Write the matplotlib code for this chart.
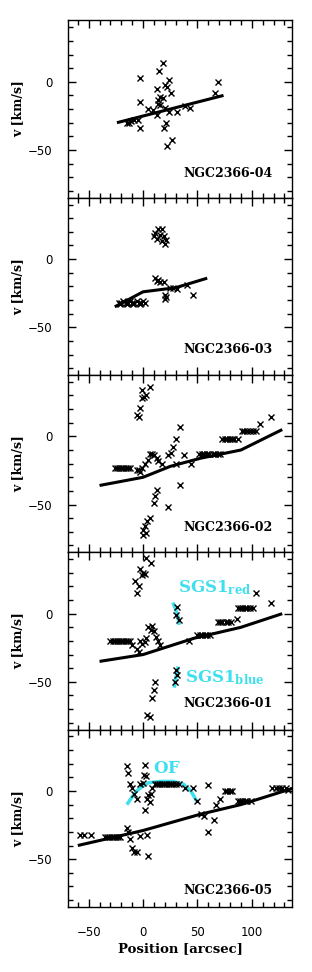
import matplotlib
matplotlib.use("Agg")
import matplotlib.pyplot as plt
from matplotlib.ticker import MultipleLocator

# ---- NGC2366-04 ----
n04_x = [18, 15, -3, 69, 24, 20, 22, 13, 26, 66, 16, 14, 18, -3, 14, 16, 5, 20, 13, 24,
         31, 39, 43, 21, 19, -3, -5, -11, -15, -8, 27, 22, -13, 9]
n04_v = [14, 8, 3, 0, 1, -2, -4, -5, -8, -8, -11, -13, -12, -15, -16, -17, -20, -19, -24, -22,
         -22, -18, -19, -30, -34, -34, -28, -29, -30, -28, -43, -47, -30, -21]
n04_mx = [-24, 74]
n04_mv = [-30, -10]

# ---- NGC2366-03 ----
n03_x = [14, 17, 11, 16, 19, 13, 21, 17, 20, 10,
         11, 14, 16, 13, 19, 20, 21, 20, 25, 28, 31, 40, 46,
         -22, -20, -18, -16, -14, -12, -10, -8, -6, -4, -2, 0, 2, -21, -15, -9, -3]
n03_v = [22, 22, 19, 18, 17, 15, 14, 13, 11, 17,
         -14, -15, -17, -16, -17, -26, -28, -29, -21, -21, -22, -19, -26,
         -32, -32, -31, -32, -32, -31, -32, -32, -31, -32, -32, -31, -32, -33, -33, -33, -33]
n03_mx = [-26, 0, 30, 59]
n03_mv = [-35, -24, -21, -14]

# ---- NGC2366-02 ----
n02_x = [-1, 6, 1, 3, -1, -3, -6, -4,
         -26, -24, -22, -20, -18, -16, -14, -12,
         -6, -3, -1, 2, 5, 6, 10, 13, 14, 17, -4, 8,
         23, 26, 28, 30, 34, 30, 38, 44, 34, 23,
         51, 54, 56, 59, 61, 64, 66, 69, 71,
         73, 75, 77, 80, 82, 84, 87,
         91, 93, 96, 98, 101, 104, 108, 118,
         13, 11, 10, 6, 4, 2, 0, 3, 0]
n02_v = [34, 36, 29, 30, 28, 21, 16, 14,
         -23, -23, -23, -23, -23, -23, -23, -23,
         -25, -26, -23, -20, -17, -13, -14, -16, -18, -20, -25, -13,
         -14, -12, -8, -2, 7, -20, -14, -20, -36, -52,
         -13, -13, -13, -13, -13, -13, -13, -13, -13,
         -2, -2, -2, -2, -2, -2, -2,
         4, 4, 4, 4, 4, 4, 9, 14,
         -39, -44, -49, -60, -62, -66, -69, -71, -72]
n02_mx = [-40, 0, 25, 53, 90, 128]
n02_mv = [-36, -30, -22, -16, -10, 5]

# ---- NGC2366-01 ----
n01_x = [3, 7, -3, 0, 2, -1, -7, -4, -6,
         31, 30, 33, 104, 118,
         87, 89, 91, 94, 96, 98, 101,
         69, 71, 73, 76, 78, 81, 86,
         50, 52, 54, 57, 59, 62, 42,
         -30, -28, -26, -24, -22, -20, -18, -16, -14, -12,
         5, 8, 7, 10, 3, -1, -3, 2, -6, -10, 12, 14, 16, -4,
         30, 31, 29, 11, 10, 8, 4, 6]
n01_v = [41, 37, 33, 30, 29, 28, 24, 20, 15,
         5, -1, -5, 15, 8,
         4, 4, 4, 4, 4, 4, 4,
         -6, -6, -6, -6, -6, -6, -4,
         -16, -16, -16, -16, -16, -16, -20,
         -20, -20, -20, -20, -20, -20, -20, -20, -20, -20,
         -10, -9, -12, -13, -18, -22, -20, -21, -26, -23, -17, -20, -23, -28,
         -41, -45, -50, -50, -56, -62, -74, -76]
n01_mx = [-40, 0, 47, 90, 128]
n01_mv = [-35, -30, -18, -10, 0]
sgs_red_x = [28, 30, 32, 33]
sgs_red_v = [7, 3, -2, -7]
sgs_blue_x = [32, 31, 30, 29]
sgs_blue_v = [-40, -44, -48, -53]

# ---- NGC2366-05 ----
n05_x = [-58, -54, -48,
         -35, -33, -31, -29, -27, -25, -23, -21,
         -15, -14, -12, -10, -8, -6, -3, 4, 5,
         -15, -14, 2, 1, 3, -12, -10, -8, -6, -3, 0, 5, 7, 4, 6, 2, 8,
         11, 13, 15, 17, 19, 21, 24, 26, 28, 30, 33,
         39, 46, 50, 53, 56, 60, 65, 60, 67, 71,
         75, 77, 80, 82,
         87, 89, 91, 94, 96, 99,
         119, 122, 125, 128, 131, 133]
n05_v = [-32, -32, -32,
         -34, -34, -34, -34, -34, -34, -34, -34,
         -27, -30, -35, -42, -45, -45, -33, -32, -48,
         18, 13, 19, 12, 11, 5, 2, -2, -6, 5, 6, -3, -2, -6, -8, -14, 2,
         5, 5, 5, 5, 5, 5, 5, 5, 5, 5, 5,
         2, 2, -7, -17, -18, 4, -21, -30, -10, -6,
         0, 0, 0, 0,
         -7, -7, -7, -7, -7, -7,
         2, 2, 2, 2, 2, 1]
n05_mx = [-60, 0, 53, 90, 138]
n05_mv = [-40, -29, -17, -10, 2]
of_x = [-14, -8, -3, 5, 16, 28, 37, 44, 49]
of_v = [-9, -2, 2, 6, 7, 7, 5, 0, -7]

names = ["NGC2366-04", "NGC2366-03", "NGC2366-02", "NGC2366-01", "NGC2366-05"]

cyan = "#3fe0ee"
serif = "DejaVu Serif"
plt.rcParams["font.family"] = "DejaVu Sans"
plt.rcParams["mathtext.fontset"] = "dejavuserif"

fig = plt.figure(figsize=(3.12, 9.72), dpi=100)
gs = fig.add_gridspec(5, 1, left=0.218, right=0.936, top=0.979, bottom=0.067, hspace=0)
axes = [fig.add_subplot(gs[i]) for i in range(5)]

pts = [(n04_x, n04_v), (n03_x, n03_v), (n02_x, n02_v), (n01_x, n01_v), (n05_x, n05_v)]
models = [(n04_mx, n04_mv), (n03_mx, n03_mv), (n02_mx, n02_mv), (n01_mx, n01_mv), (n05_mx, n05_mv)]
label_y = [0.115, 0.125, 0.12, 0.13, 0.07]

for i, ax in enumerate(axes):
    x, v = pts[i]
    mx, mv = models[i]
    ax.plot(mx, mv, color="black", lw=2.2, solid_capstyle="butt", zorder=3)
    ax.plot(x, v, "x", color="black", ms=4.5, mew=1.0, zorder=4)
    ax.set_xlim(-69, 137)
    ax.set_ylim(-85, 45)
    ax.xaxis.set_major_locator(MultipleLocator(50))
    ax.xaxis.set_minor_locator(MultipleLocator(10))
    ax.yaxis.set_major_locator(MultipleLocator(50))
    ax.yaxis.set_minor_locator(MultipleLocator(10))
    ax.tick_params(which="both", direction="in", top=True, right=True, labelsize=8.5, width=1.0)
    ax.tick_params(which="major", length=6)
    ax.tick_params(which="minor", length=3.5)
    ax.tick_params(axis="y", which="major", pad=11)
    ax.tick_params(axis="x", which="major", pad=14)
    for s in ax.spines.values():
        s.set_linewidth(1.0)
    ax.set_ylabel("v [km/s]", family=serif, fontweight="bold", fontsize=9, labelpad=3)
    ax.text(0.915, label_y[i], names[i], transform=ax.transAxes, ha="right", va="baseline",
            family=serif, fontweight="bold", fontsize=9)
    if i < 4:
        ax.tick_params(labelbottom=False)

ax1 = axes[3]
ax1.plot(sgs_red_x, sgs_red_v, color=cyan, lw=2.5, zorder=2)
ax1.plot(sgs_blue_x, sgs_blue_v, color=cyan, lw=2.5, zorder=2)
ax1.text(32, 16, r"$\mathbf{SGS1}_{\mathbf{red}}$", color=cyan, fontsize=12, va="baseline")
ax1.text(39, -50, r"$\mathbf{SGS1}_{\mathbf{blue}}$", color=cyan, fontsize=12, va="baseline")

ax5 = axes[4]
ax5.plot(of_x, of_v, color=cyan, lw=2.5, zorder=2)
ax5.text(9, 13, r"$\mathbf{OF}$", color=cyan, fontsize=12, va="baseline")
ax5.set_xlabel("Position [arcsec]", family=serif, fontweight="bold", fontsize=9.5, labelpad=2)

fig.savefig("out.png", dpi=100)
